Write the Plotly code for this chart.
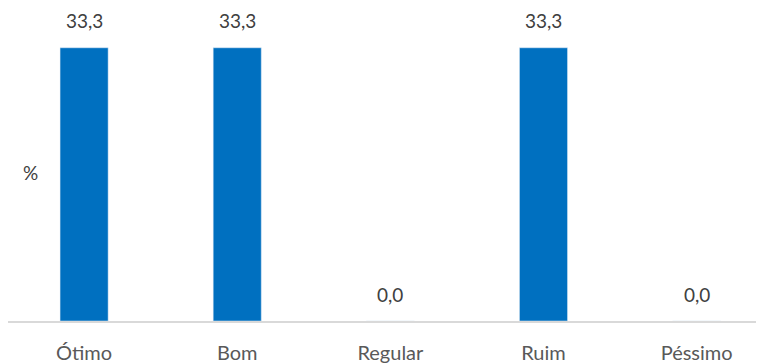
import plotly.graph_objects as go

categorias = ['Ótimo', 'Bom', 'Regular', 'Ruim', 'Péssimo']
valores = [33.3, 33.3, 0.0, 33.3, 0.0]
rotulos = [f'{v:.1f}'.replace('.', ',') for v in valores]

fig = go.Figure()
fig.add_trace(go.Bar(x=categorias, y=valores, marker_color='#0070C0', width=0.314))

for c, v, r in zip(categorias, valores, rotulos):
    fig.add_annotation(x=c, y=v, text=r, showarrow=False, yshift=27,
                       font=dict(size=19, color='#404040'))

# page body adds 8px margin, so figure is 756x356
fig.add_annotation(x=22 / 756, xref='paper', y=149 / 311, yref='paper', text='%',
                   showarrow=False, xanchor='center', yanchor='middle',
                   font=dict(size=19, color='#404040'))

fig.update_layout(
    width=756, height=356,
    margin=dict(l=0, r=0, t=2, b=43, pad=0),
    plot_bgcolor='white', paper_bgcolor='white',
    font=dict(family='Lato', color='#595959'),
    showlegend=False,
    xaxis=dict(showline=True, linecolor='#d9d9d9', linewidth=1.5, ticks='',
               tickfont=dict(size=20, color='#595959'), ticklabelstandoff=13,
               automargin=False, range=[-0.497, 4.44]),
    yaxis=dict(range=[0, 37.9], visible=False, showgrid=False),
)

fig.write_html('out.html')
